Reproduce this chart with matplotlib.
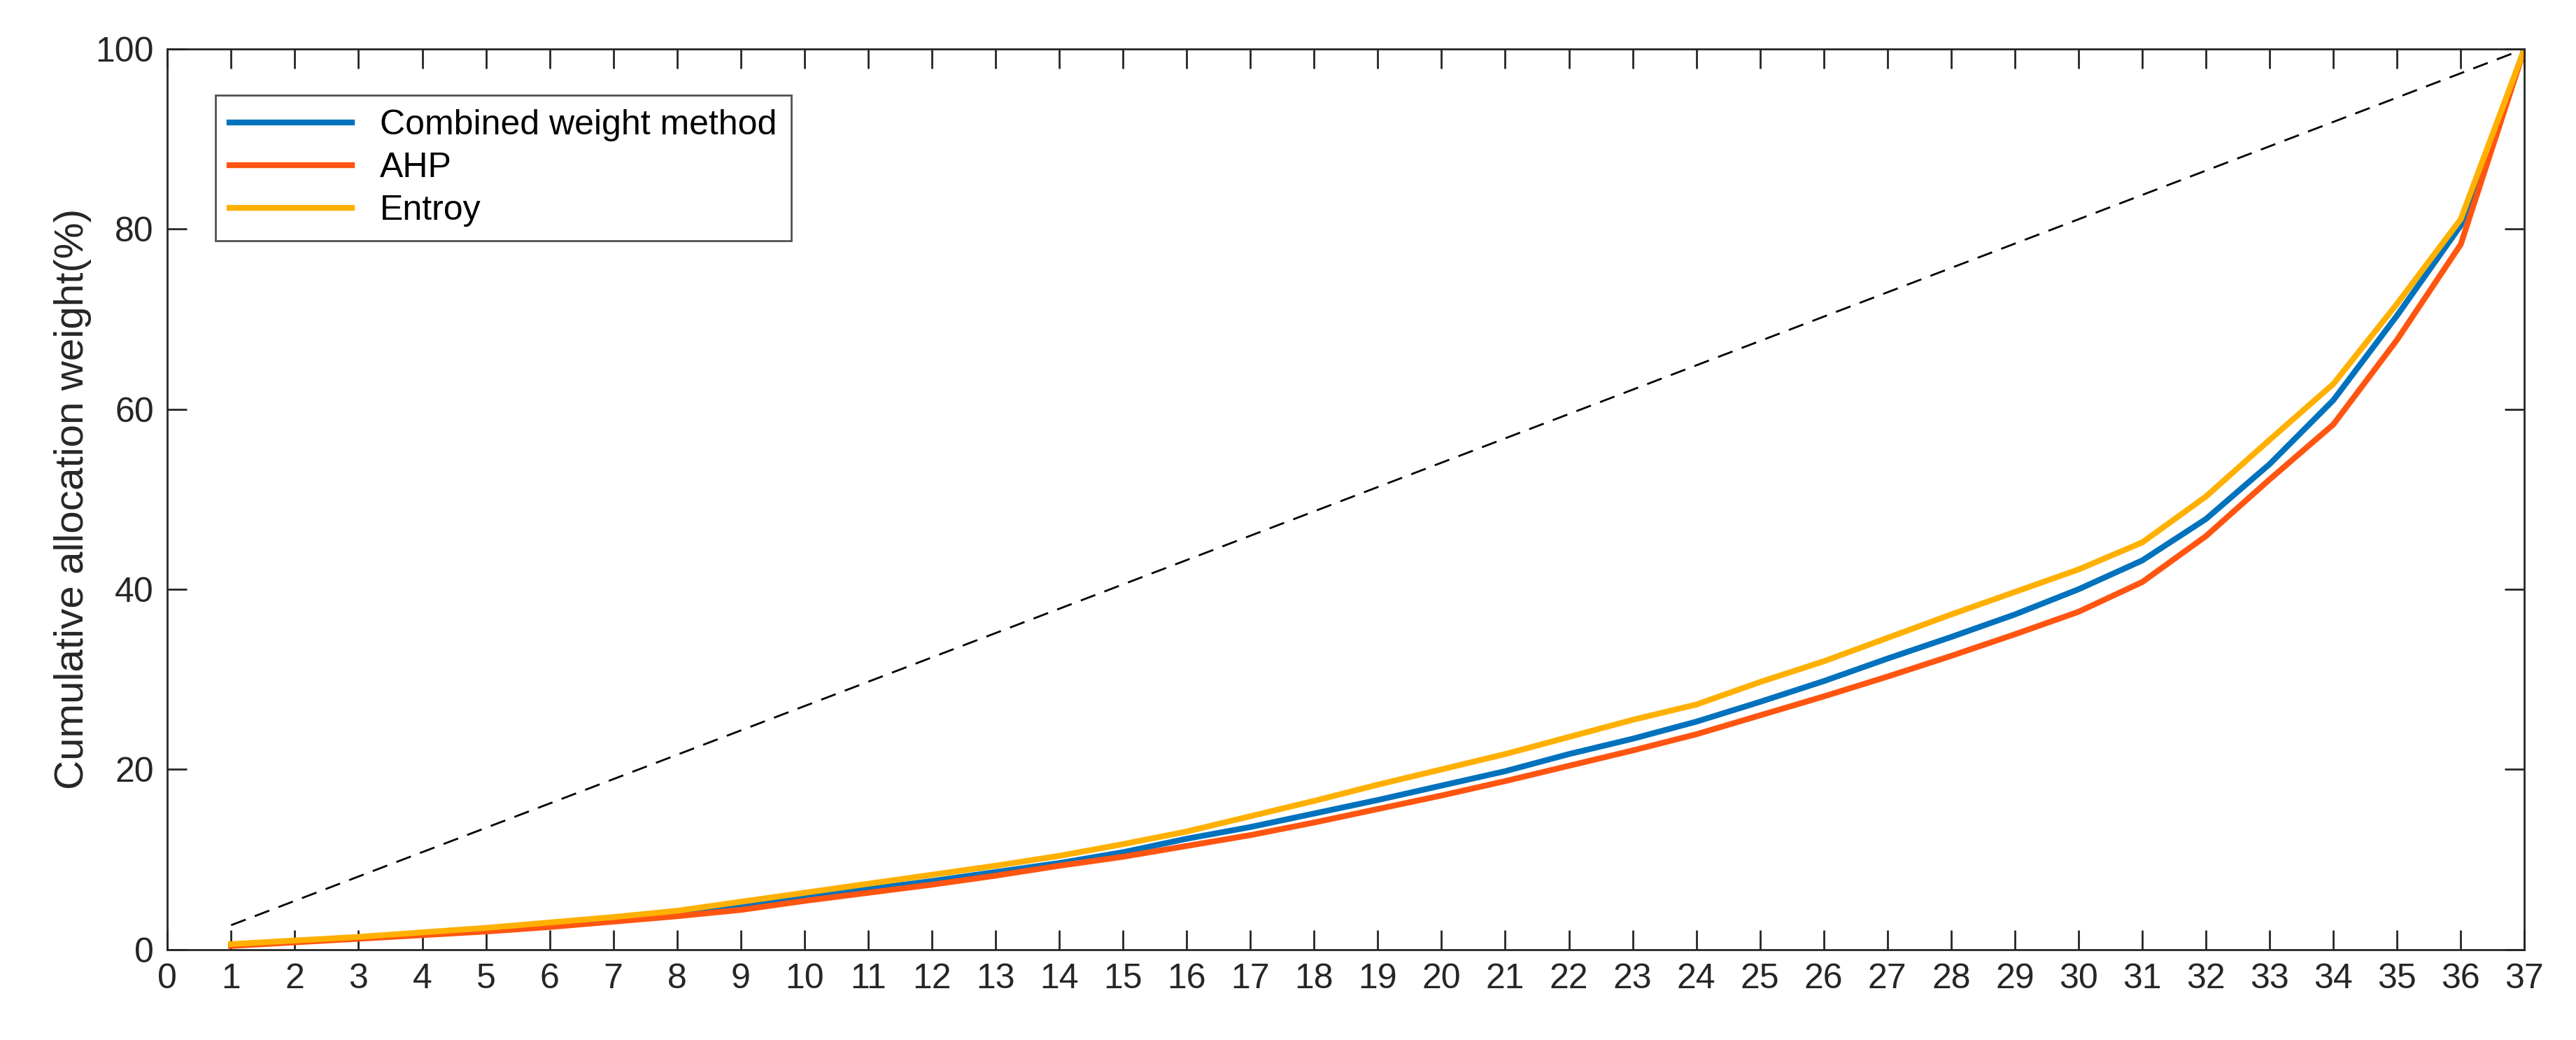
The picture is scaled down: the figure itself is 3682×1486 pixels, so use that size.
import matplotlib
matplotlib.use("Agg")
import matplotlib.pyplot as plt
import numpy as np

x = list(range(1, 38))
combined = [0.5,0.9,1.3,1.7,2.1,2.6,3.2,3.9,4.8,5.8,6.7,7.6,8.6,9.6,10.8,12.3,13.6,15.1,16.6,18.2,19.8,21.7,23.4,25.3,27.5,29.8,32.3,34.7,37.2,40.0,43.2,47.8,53.9,61.0,70.4,80.4,100.0]
ahp      = [0.4,0.8,1.2,1.6,2.0,2.5,3.1,3.7,4.4,5.4,6.3,7.2,8.2,9.3,10.3,11.5,12.7,14.1,15.6,17.1,18.7,20.4,22.1,23.9,26.0,28.1,30.3,32.6,35.0,37.5,40.8,45.9,52.2,58.3,67.7,78.3,100.0]
entroy   = [0.6,1.0,1.4,1.9,2.4,3.0,3.6,4.3,5.3,6.3,7.3,8.3,9.3,10.4,11.7,13.1,14.8,16.5,18.3,20.0,21.7,23.6,25.5,27.2,29.7,32.0,34.6,37.2,39.7,42.2,45.2,50.3,56.6,62.8,71.7,81.1,100.0]
equality = [100.0 * i / 37 for i in x]

plt.rcParams['font.family'] = ['Arial', 'Liberation Sans', 'DejaVu Sans']
fig = plt.figure(figsize=(36.82, 14.86), dpi=100)
ax = fig.add_axes([0.065, 0.087, 0.915, 0.866])
ax.plot(x, equality, color='black', ls=(0, (8, 5)), lw=2)
ax.plot(x, combined, color='#0072BD', lw=6, label='Combined weight method')
ax.plot(x, ahp, color='#FF5510', lw=6, label='AHP')
ax.plot(x, entroy, color='#FFB000', lw=6, label='Entroy')
ax.set_xlim(0, 37)
ax.set_ylim(0, 100)
ax.set_xticks(range(0, 38))
ax.set_yticks(range(0, 101, 20))
ax.tick_params(direction='in', length=20, width=2, labelsize=36, colors='#262626', top=True, right=True, pad=14)
for s in ax.spines.values():
    s.set_linewidth(2)
    s.set_color('#262626')
ax.set_ylabel('Cumulative allocation weight(%)', fontsize=42, color='#262626')
leg = ax.legend(loc='upper left', bbox_to_anchor=(0.013, 0.968), fontsize=36, frameon=True, fancybox=False,
                edgecolor='#262626', handlelength=3.5, borderpad=0.4, labelspacing=0.3)
leg.get_frame().set_linewidth(2)
fig.savefig('out.png', dpi=100)
